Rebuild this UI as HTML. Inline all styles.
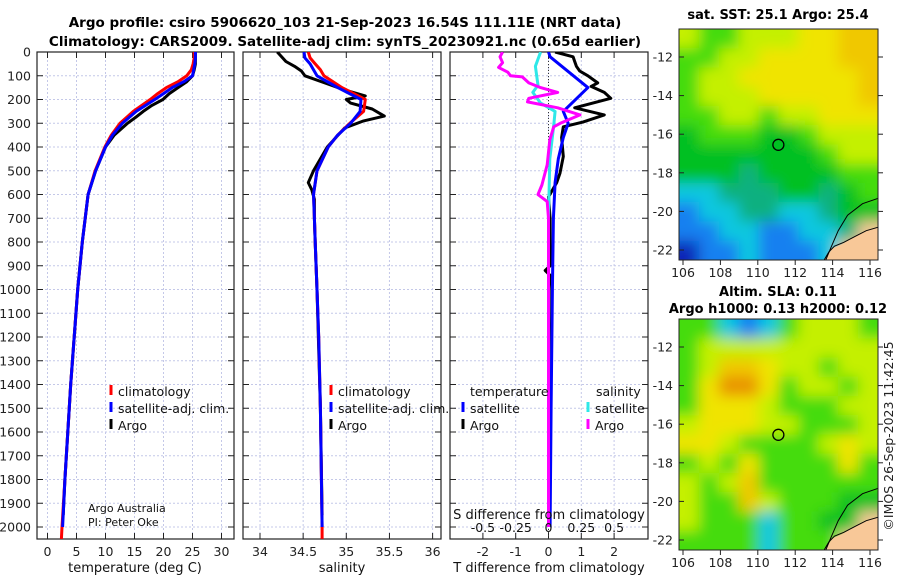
<!DOCTYPE html>
<html><head><meta charset="utf-8"><style>
html,body{margin:0;padding:0;background:#fff;width:900px;height:580px;overflow:hidden}
svg{display:block;font-family:"DejaVu Sans","Liberation Sans",sans-serif}
</style></head><body>
<svg id="fig" width="900" height="580" viewBox="0 0 900 580" xmlns="http://www.w3.org/2000/svg">
<defs>
<filter id="blur1" filterUnits="userSpaceOnUse" x="600" y="0" width="300" height="580"><feGaussianBlur stdDeviation="7"/></filter>
<clipPath id="clipM1"><rect x="679" y="29" width="199" height="231"/></clipPath>
<clipPath id="clipM2"><rect x="679" y="319" width="199" height="231"/></clipPath>
<clipPath id="clipP1"><rect x="37" y="52" width="197" height="487"/></clipPath>
<clipPath id="clipP2"><rect x="243" y="52" width="198" height="487"/></clipPath>
<clipPath id="clipP3"><rect x="450" y="52" width="198" height="487"/></clipPath>
</defs>
<text x="345" y="27" text-anchor="middle" font-weight="bold" font-size="13.5">Argo profile: csiro 5906620_103 21-Sep-2023 16.54S 111.11E (NRT data)</text>
<text x="345" y="46" text-anchor="middle" font-weight="bold" font-size="13.5">Climatology: CARS2009. Satellite-adj clim: synTS_20230921.nc (0.65d earlier)</text>
<g id="plots"></g>
<text x="778" y="19" text-anchor="middle" font-weight="bold" font-size="13">sat. SST: 25.1 Argo: 25.4</text>
<text x="778" y="296" text-anchor="middle" font-weight="bold" font-size="13">Altim. SLA: 0.11</text>
<text x="778" y="313" text-anchor="middle" font-weight="bold" font-size="13">Argo h1000: 0.13 h2000: 0.12</text>
<text transform="translate(893,436) rotate(-90)" text-anchor="middle" font-size="12.5" fill="#222">©IMOS 26-Sep-2023 11:42:45</text>
</svg>
<script>
// ---- profile data ----
const tDepth = [0,25,50,75,100,125,150,175,200,250,300,350,400,500,600,700,800,1000,1200,1400,1600,1800,2000,2050];
const tempClim = [25.3,25.3,25.1,24.8,24.0,22.5,20.5,19.0,17.7,14.8,12.5,11.0,9.9,8.2,7.0,6.5,6.0,5.2,4.6,4.0,3.5,3.0,2.5,2.4];
const tSatDepth = [0,25,50,75,100,125,150,175,200,250,300,350,400,500,600,700,800,1000,1200,1400,1600,1800,2000];
const tempSat = [25.5,25.5,25.4,25.2,25.0,23.5,21.5,20.0,18.5,15.3,12.9,11.2,10.0,8.3,7.0,6.5,6.0,5.2,4.6,4.0,3.5,3.0,2.6];
const aDepth = [0,25,50,75,100,125,150,175,200,225,250,275,300,350,400,500,600,700,800,1000,1200,1400,1600,1800,1950];
const tempArgo = [25.5,25.5,25.5,25.3,25.0,24.0,22.5,21.0,19.9,18.0,16.5,15.2,13.8,11.5,10.0,8.3,7.0,6.5,6.0,5.2,4.6,4.0,3.5,3.0,2.7];
const sDepth = [0,25,50,75,100,150,200,250,300,350,400,500,600,700,800,1000,1200,1500,2000,2050];
const salClim = [34.56,34.58,34.64,34.70,34.74,34.95,35.22,35.2,35.04,34.9,34.79,34.66,34.62,34.63,34.64,34.66,34.68,34.7,34.72,34.72];
const sSatDepth = [0,25,50,75,100,150,200,250,300,350,400,500,600,700,800,1000,1200,1500,2000];
const salSat = [34.51,34.52,34.58,34.62,34.66,34.9,35.17,35.16,35.05,34.9,34.79,34.66,34.62,34.63,34.64,34.66,34.68,34.7,34.72];
const saDepth = [0,20,40,60,80,100,130,160,185,200,215,240,270,290,320,360,400,450,500,550,580,620,700,800,1000,1500,1950];
const salArgo = [34.2,34.25,34.3,34.4,34.48,34.52,34.75,34.98,35.22,35.0,35.05,35.3,35.44,35.2,34.98,34.88,34.78,34.7,34.62,34.56,34.6,34.63,34.63,34.64,34.66,34.7,34.72];
const dtSatDepth = [0,20,150,250,300,360,450,550,700,1000,1500,2000];
const dtSat = [0,0.05,1.2,0.45,0.6,0.45,0.3,0.2,0.15,0.12,0.08,0.05];
const dtArgoDepth = [0,20,40,60,80,100,130,145,170,195,215,235,265,295,315,360,440,510,550,610,700,900,920,940,1000,1500,1950];
const dtArgo = [0.2,0.75,0.8,0.85,0.95,1.2,1.5,1.3,1.7,1.9,1.35,0.8,1.7,1.05,0.45,0.4,0.45,0.35,0.25,0,0.05,0.05,-0.1,0.05,0.02,0,0];
const dsArgoDepth = [0,20,45,65,85,100,105,130,150,170,195,210,235,265,300,315,370,475,560,600,630,700,1000,2000];
const dsArgo = [-0.35,-0.37,-0.35,-0.38,-0.31,-0.29,-0.2,-0.15,-0.06,0.07,-0.15,-0.16,0.07,0.24,0.09,0.04,0.01,-0.01,-0.05,-0.08,-0.01,0,0,0];
const dsSatDepth = [0,60,140,170,215,250,310,450,700,2000];
const dsSat = [-0.06,-0.1,-0.08,-0.12,-0.06,0.05,0.04,0.01,0,0];
const depthTicks = [0,100,200,300,400,500,600,700,800,900,1000,1100,1200,1300,1400,1500,1600,1700,1800,1900,2000];
const tempTicks = [0,5,10,15,20,25,30];
const salTicks = [34,34.5,35,35.5,36];
const salTickLabels = ["34","34.5","35","35.5","36"];
const dtTicks = [-2,-1,0,1,2];
const dsTicks = [-0.5,-0.25,0,0.25,0.5];
const dsTickLabels = ["-0.5","-0.25","0","0.25","0.5"];

const NS = "http://www.w3.org/2000/svg";
const root = document.getElementById('plots');
function el(tag, attrs, parent){const e=document.createElementNS(NS,tag);for(const k in attrs)e.setAttribute(k,attrs[k]);(parent||root).appendChild(e);return e;}
const yD = d => 52 + d*0.2375;
const xT = t => 47.5 + t*5.8;
const xS = s => 260 + (s-34)*86.3;
const xDT = v => 548.5 + v*32.8;
const xDS = v => 548.5 + v*131.2;

function panel(name,x0,x1,xTicks,xFn,tickLabels,gridXs){
  const g = el('g',{});
  
  
  depthTicks.forEach(d=>{ el('line',{x1:x0,x2:x1,y1:yD(d),y2:yD(d),stroke:'#c4c8e8','stroke-width':1,'stroke-dasharray':'2,2'},g); });
  gridXs.forEach(x=>{ el('line',{x1:x,x2:x,y1:52,y2:539,stroke:'#c4c8e8','stroke-width':1,'stroke-dasharray':'2,2'},g); });
  el('rect',{x:x0,y:52,width:x1-x0,height:487,fill:'none',stroke:'#222','stroke-width':1.2},g);
  depthTicks.forEach(d=>{
    el('line',{x1:x0,x2:x0+6,y1:yD(d),y2:yD(d),stroke:'#222'},g);
    el('line',{x1:x1-6,x2:x1,y1:yD(d),y2:yD(d),stroke:'#222'},g);
  });
  xTicks.forEach((t,i)=>{
    const x=xFn(t);
    el('line',{x1:x,x2:x,y1:533,y2:539,stroke:'#222'},g);
    el('line',{x1:x,x2:x,y1:52,y2:58,stroke:'#222'},g);
    if(tickLabels){const tx=el('text',{x:x,y:556,'text-anchor':'middle','font-size':12.5,fill:'#222'},g);tx.textContent=tickLabels[i];}
  });
  return g;
}
function line(name,g,depths,vals,xFn,color,w,clip){
  const pts = depths.map((d,i)=>xFn(vals[i]).toFixed(1)+','+yD(d).toFixed(1)).join(' ');
  const p = el('polyline',{points:pts,fill:'none',stroke:color,'stroke-width':w,'stroke-linejoin':'round','clip-path':clip},g);
  
  
}
function txt(name,g,x,y,s,size,anchor){
  const t=el('text',{x:x,y:y,'font-size':size||12.5,fill:'#111','text-anchor':anchor||'start'},g);
  t.textContent=s;
  
  
  return t;
}
function mark(g,x,y,color){ el('rect',{x:x-1.5,y:y-11,width:3,height:10,fill:color},g); }

depthTicks.forEach(d=>{
  const t=el('text',{x:31,y:yD(d)+4.5,'text-anchor':'end','font-size':12.5,fill:'#222'});
  t.textContent=String(d);
  
  
});

const g1 = panel('temperature-panel',37,234,tempTicks,xT,tempTicks.map(String),tempTicks.map(xT));
line('temp-argo-line',g1,aDepth,tempArgo,xT,'#000',3,'url(#clipP1)');
line('temp-climatology-line',g1,tDepth,tempClim,xT,'#f00',3,'url(#clipP1)');
line('temp-satellite-line',g1,tSatDepth,tempSat,xT,'#00f',3,'url(#clipP1)');
txt('temperature-axis-title',g1,135,572,'temperature (deg C)',13,'middle');
mark(g1,111,396,'#f00'); txt('legend-climatology',g1,118,396,'climatology');
mark(g1,111,413,'#00f'); txt('legend-satellite-adj',g1,118,413,'satellite-adj. clim.');
mark(g1,111,430,'#000'); txt('legend-argo',g1,118,430,'Argo');
txt('argo-australia-label',g1,88,512,'Argo Australia',11);
txt('pi-label',g1,88,526,'PI: Peter Oke',11);

const g2 = panel('salinity-panel',243,441,salTicks,xS,salTickLabels,salTicks.map(xS));
line('sal-argo-line',g2,saDepth,salArgo,xS,'#000',3,'url(#clipP2)');
line('sal-climatology-line',g2,sDepth,salClim,xS,'#f00',3,'url(#clipP2)');
line('sal-satellite-line',g2,sSatDepth,salSat,xS,'#00f',3,'url(#clipP2)');
txt('salinity-axis-title',g2,342,572,'salinity',13,'middle');
mark(g2,331,396,'#f00'); txt('legend-climatology-2',g2,338,396,'climatology');
mark(g2,331,413,'#00f'); txt('legend-satellite-adj-2',g2,338,413,'satellite-adj. clim.');
mark(g2,331,430,'#000'); txt('legend-argo-2',g2,338,430,'Argo');

const g3 = panel('difference-panel',450,648,dtTicks,xDT,null,dtTicks.map(xDT));
dtTicks.forEach(t=>{const tx=el('text',{x:xDT(t),y:556,'text-anchor':'middle','font-size':12.5,fill:'#222'},g3);tx.textContent=String(t);});
el('line',{x1:548.5,x2:548.5,y1:52,y2:539,stroke:'#333','stroke-width':1,'stroke-dasharray':'1,2'},g3);
line('dT-argo-line',g3,dtArgoDepth,dtArgo,xDT,'#000',3,'url(#clipP3)');
line('dT-satellite-line',g3,dtSatDepth,dtSat,xDT,'#00f',3,'url(#clipP3)');
line('dS-satellite-line',g3,dsSatDepth,dsSat,xDS,'#2ee8e8',3,'url(#clipP3)');
line('dS-argo-line',g3,dsArgoDepth,dsArgo,xDS,'#f0f',3,'url(#clipP3)');
dsTicks.forEach((t,i)=>{const tx=el('text',{x:xDS(t),y:532,'text-anchor':'middle','font-size':12.5,fill:'#111'},g3);tx.textContent=dsTickLabels[i];});
txt('s-diff-axis-title',g3,549,519,'S difference from climatology',13,'middle');
txt('t-diff-axis-title',g3,549,572,'T difference from climatology',13,'middle');
txt('legend-temperature-header',g3,470,396,'temperature');
mark(g3,463,413,'#00f'); txt('legend-t-satellite',g3,470,413,'satellite');
mark(g3,463,430,'#000'); txt('legend-t-argo',g3,470,430,'Argo');
txt('legend-salinity-header',g3,596,396,'salinity');
mark(g3,588,413,'#2ee8e8'); txt('legend-s-satellite',g3,595,413,'satellite');
mark(g3,588,430,'#f0f'); txt('legend-s-argo',g3,595,430,'Argo');

// ---- maps ----
const palette = {Y:'#f0e400',O:'#f0c800',R:'#e89000',L:'#c4f000',G:'#44dc10',D:'#00c020',T:'#10b080',C:'#10c8e0',B:'#1880f0',N:'#0c28b8',X:'#f8c898'};
const sstGrid = ["LGGLLLYYOO","GGLLYYYYOO","GLLYYYYYYO","GLLLYYYYYO","GGLLGLLYYY","DGGGDDGLLL","DDDDDDDGLL","DDDTDDDDGG","CCTTTDDTDG","BCCTTCCTDD","BBCCBBCCTX","NBBCBBBCXX"];
const slaGrid = ["GGCBCGLLLG","GLLLLLLLLL","GLOOYLLGLL","GYRRYGLLGL","GYYYLGGGLL","LYYYLLGGGL","YYLGGGGLYL","GLGYGGGGYG","LGLOGGGGGG","LGGOLGGGDD","LGGGCGGDDX","GGGGCGGGXX"];
const mapLatTicks = [-12,-14,-16,-18,-20,-22];
const mapLonTicks = [106,108,110,112,114,116];
const argoLon = 111.1, argoLat = -16.55;

function drawMap(name,grid,top,clip){
  const g = el('g',{});
  
  
  const lonX = lon => 683 + (lon-106)*18.7;
  const latY = lat => (top+28) + (-12-lat)*19.3;
  const inner = el('g',{'clip-path':clip},g);
  const bl = el('g',{filter:'url(#blur1)'},inner);
  const cw = 199/10, ch = 231/12;
  grid.forEach((row,r)=>{ for(let c=0;c<row.length;c++){
    const x0 = c===0 ? 664 : 679+c*cw;
    const x1 = c===row.length-1 ? 895 : 679+(c+1)*cw+0.5;
    const y0 = r===0 ? top-15 : top+r*ch;
    const y1 = r===grid.length-1 ? top+246 : top+(r+1)*ch+0.5;
    el('rect',{x:x0,y:y0,width:x1-x0,height:y1-y0,fill:palette[row[c]]},bl);
  }});
  const land = `${lonX(113.5)},${latY(-22.6)} ${lonX(114.0)},${latY(-21.9)} ${lonX(114.5)},${latY(-21.7)} ${lonX(115.2)},${latY(-21.3)} ${lonX(115.8)},${latY(-21.0)} ${lonX(116.5)},${latY(-20.8)} ${lonX(116.5)},${latY(-22.6)}`;
  el('polygon',{points:land,fill:'#f8c898'},inner);
  const coast = `${lonX(113.5)},${latY(-22.6)} ${lonX(113.8)},${latY(-22.1)} ${lonX(114.1)},${latY(-21.8)} ${lonX(114.6)},${latY(-21.6)} ${lonX(115.2)},${latY(-21.3)} ${lonX(115.8)},${latY(-21.0)} ${lonX(116.5)},${latY(-20.8)}`;
  el('polyline',{points:coast,fill:'none',stroke:'#000','stroke-width':1},inner);
  const shelf = `${lonX(113.6)},${latY(-22.6)} ${lonX(113.9)},${latY(-21.9)} ${lonX(114.3)},${latY(-21.0)} ${lonX(114.8)},${latY(-20.2)} ${lonX(115.6)},${latY(-19.6)} ${lonX(116.5)},${latY(-19.3)}`;
  el('polyline',{points:shelf,fill:'none',stroke:'#000','stroke-width':1},inner);
  const circ = el('ellipse',{cx:lonX(argoLon),cy:latY(argoLat),rx:5.5,ry:5.5,fill:'none',stroke:'#000','stroke-width':1.3},g);
  
  
  el('rect',{x:679,y:top,width:199,height:231,fill:'none',stroke:'#222','stroke-width':1},g);
  mapLatTicks.forEach(l=>{
    const y=latY(l);
    el('line',{x1:878,x2:883,y1:y,y2:y,stroke:'#222'},g);
    el('line',{x1:679,x2:684,y1:y,y2:y,stroke:'#222'},g);
    const t=el('text',{x:673,y:y+4.5,'text-anchor':'end','font-size':12.5,fill:'#222'},g); t.textContent=String(l);
  });
  mapLonTicks.forEach(l=>{
    const x=lonX(l);
    el('line',{x1:x,x2:x,y1:top+231,y2:top+236,stroke:'#222'},g);
    const t=el('text',{x:x,y:top+248,'text-anchor':'middle','font-size':12.5,fill:'#222'},g); t.textContent=String(l);
  });
}
drawMap('sst-map',sstGrid,29,'url(#clipM1)');
drawMap('sla-map',slaGrid,319,'url(#clipM2)');
</script>
</body></html>
